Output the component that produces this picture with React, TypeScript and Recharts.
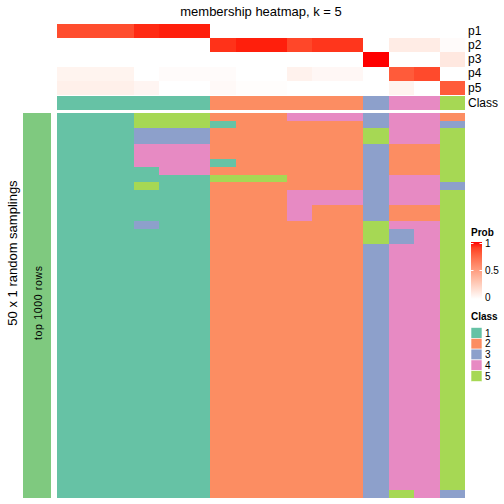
import { BarChart, Bar, Cell, XAxis, YAxis } from 'recharts';

const columns = ['c1', 'c2', 'c3', 'c4', 'c5', 'c6', 'c7', 'c8', 'c9', 'c10', 'c11', 'c12', 'c13', 'c14', 'c15', 'c16'];
const probNames = ['p1', 'p2', 'p3', 'p4', 'p5'];

const p1 = [0.85, 0.85, 0.85, 0.95, 0.97, 0.97, 0, 0, 0, 0, 0, 0, 0, 0, 0, 0];
const p2 = [0, 0, 0, 0, 0, 0, 0.93, 0.97, 0.97, 0.87, 0.92, 0.92, 0, 0.1, 0.1, 0.02];
const p3 = [0, 0, 0, 0, 0, 0, 0, 0, 0, 0, 0, 0, 1, 0, 0, 0.12];
const p4 = [0.06, 0.06, 0.06, 0, 0.02, 0.02, 0.02, 0, 0, 0.07, 0.04, 0.04, 0, 0.8, 0.86, 0];
const p5 = [0.08, 0.08, 0.08, 0.05, 0, 0, 0.03, 0.01, 0.01, 0, 0, 0, 0, 0.06, 0, 0.8];
const probs = [p1, p2, p3, p4, p5];

const columnClass = [1, 1, 1, 1, 1, 1, 2, 2, 2, 2, 2, 2, 3, 4, 4, 5];

// class of each of the 50 samplings, as runs [class, count] from top to bottom
const samplingRuns = [
  [[1, 50]],
  [[1, 50]],
  [[1, 50]],
  [[5, 2], [3, 2], [4, 3], [1, 2], [5, 1], [1, 4], [3, 1], [1, 35]],
  [[5, 2], [3, 2], [4, 4], [1, 42]],
  [[5, 2], [3, 2], [4, 4], [1, 42]],
  [[2, 1], [1, 1], [2, 4], [1, 1], [2, 1], [5, 1], [2, 41]],
  [[2, 8], [5, 1], [2, 41]],
  [[2, 8], [5, 1], [2, 41]],
  [[4, 1], [2, 9], [4, 4], [2, 36]],
  [[4, 1], [2, 9], [4, 2], [2, 38]],
  [[4, 1], [2, 9], [4, 2], [2, 38]],
  [[3, 2], [5, 2], [3, 10], [5, 3], [3, 33]],
  [[4, 4], [2, 4], [4, 4], [2, 2], [4, 1], [3, 2], [4, 32], [5, 1]],
  [[4, 4], [2, 4], [4, 4], [2, 2], [4, 36]],
  [[2, 1], [3, 1], [5, 7], [3, 1], [5, 39], [3, 1]],
];

const classLabels = ['1', '2', '3', '4', '5'];
const classColors: Record<number, string> = {
  1: '#66C2A5',
  2: '#FC8D62',
  3: '#8DA0CB',
  4: '#E78AC3',
  5: '#A6D854',
};
const probTicks = ['1', '0.5', '0'];

const FONT = '"Liberation Sans", Arial, Helvetica, sans-serif';

// white -> red ramp, interpolated in Lab like colorRamp2
function probColor(v: number) {
  const L = 100 + (53.24 - 100) * v;
  const A = 80.09 * v;
  const B = 67.2 * v;
  const fy = (L + 16) / 116;
  const fx = fy + A / 500;
  const fz = fy - B / 200;
  const inv = (t: number) => (t ** 3 > 0.008856 ? t ** 3 : (t - 16 / 116) / 7.787);
  const X = 0.95047 * inv(fx);
  const Y = inv(fy);
  const Z = 1.08883 * inv(fz);
  const lin = [
    3.2406 * X - 1.5372 * Y - 0.4986 * Z,
    -0.9689 * X + 1.8758 * Y + 0.0415 * Z,
    0.0557 * X - 0.204 * Y + 1.057 * Z,
  ];
  const out = lin.map((c) => {
    const g = c <= 0.0031308 ? 12.92 * c : 1.055 * Math.pow(c, 1 / 2.4) - 0.055;
    return Math.round(Math.min(1, Math.max(0, g)) * 255);
  });
  return `rgb(${out[0]},${out[1]},${out[2]})`;
}

const rowCount = 50;
const rowKeys = Array.from({ length: rowCount }, (_, i) => `r${i}`);
const samplingMatrix = samplingRuns.map((runs) => runs.flatMap(([cls, n]) => Array(n).fill(cls)));

const probData = columns.map((col) => {
  const d: Record<string, string | number> = { col };
  probNames.forEach((p) => (d[p] = 1));
  return d;
});
const classData = columns.map((col) => ({ col, cls: 1 }));
const bodyData = columns.map((col) => {
  const d: Record<string, string | number> = { col };
  rowKeys.forEach((k) => (d[k] = 1));
  return d;
});

const LEFT = 57;
const WIDTH = 408;
const chartMargin = { top: 0, right: 0, bottom: 0, left: 0 };

// recharts floors the bar width, so close the sub-pixel gap to the next column
const Tile = (props: any) => {
  const { x, y, width, height, fill, index } = props;
  const extra = index < columns.length - 1 ? 1 : WIDTH / columns.length - width;
  const top = height < 0 ? y + height : y;
  const h = Math.abs(height);
  return <rect x={x} y={top} width={width + extra} height={h} fill={fill} shapeRendering="crispEdges" />;
};

function Overlay() {
  const rowLabelY = [31, 45, 59, 73, 88, 103];
  return (
    <svg width={504} height={504} style={{ position: 'absolute', left: 0, top: 0 }} fontFamily={FONT}>
      <defs>
        <linearGradient id="probGrad" x1="0" y1="1" x2="0" y2="0">
          {[0, 0.1, 0.2, 0.3, 0.4, 0.5, 0.6, 0.7, 0.8, 0.9, 1].map((s) => (
            <stop key={s} offset={s} stopColor={probColor(s)} />
          ))}
        </linearGradient>
      </defs>
      <text x={261} y={15.5} fontSize={13} textAnchor="middle" fill="#000">
        membership heatmap, k = 5
      </text>
      {[...probNames, 'Class'].map((name, i) => (
        <text key={name} x={468} y={rowLabelY[i]} fontSize={12} dominantBaseline="central" fill="#000">
          {name}
        </text>
      ))}
      <text transform="translate(17,253) rotate(-90)" fontSize={13} textAnchor="middle" fill="#000">
        50 x 1 random samplings
      </text>
      <rect x={23} y={113} width={28} height={385} fill="#7FC97F" />
      <text
        transform="translate(41.5,303) rotate(-90)"
        fontSize={10.5}
        textAnchor="middle"
        textLength={74}
        lengthAdjust="spacing"
        fill="#000"
      >
        top 1000 rows
      </text>

      <text x={471} y={236} fontSize={10} fontWeight="bold" fill="#000">Prob</text>
      <rect x={471} y={242} width={11} height={57} fill="url(#probGrad)" />
      {[243.5, 270.5].map((y) => (
        <g key={y} stroke="#fff" strokeWidth={1}>
          <line x1={471} x2={473.5} y1={y} y2={y} />
          <line x1={479.5} x2={482} y1={y} y2={y} />
        </g>
      ))}
      {probTicks.map((t, i) => (
        <text key={t} x={485} y={243.5 + i * 27} fontSize={10} dominantBaseline="central" fill="#000">
          {t}
        </text>
      ))}

      <text x={471} y={320} fontSize={10} fontWeight="bold" fill="#000">Class</text>
      {classLabels.map((lab, i) => (
        <g key={lab}>
          <rect x={471} y={327.5 + i * 10.8} width={11} height={10.8} fill={classColors[i + 1]} stroke="#fff" strokeWidth={0.6} />
          <text x={485} y={333 + i * 10.8} fontSize={10} dominantBaseline="central" fill="#000">
            {lab}
          </text>
        </g>
      ))}
    </svg>
  );
}

export default function App() {
  return (
    <div style={{ position: 'absolute', left: 0, top: 0, width: 504, height: 504, background: '#fff' }}>
      <Overlay />
      <div style={{ position: 'absolute', left: LEFT, top: 24 }}>
        <BarChart width={WIDTH} height={71} data={probData} margin={chartMargin} barCategoryGap={0} barGap={0}>
          <XAxis dataKey="col" type="category" hide />
          <YAxis type="number" domain={[0, probNames.length]} reversed hide allowDataOverflow />
          {probNames.map((p, r) => (
            <Bar key={p} dataKey={p} stackId="p" isAnimationActive={false} shape={Tile}>
              {columns.map((c, i) => (
                <Cell key={c} fill={probColor(probs[r][i])} />
              ))}
            </Bar>
          ))}
        </BarChart>
      </div>
      <div style={{ position: 'absolute', left: LEFT, top: 96 }}>
        <BarChart width={WIDTH} height={14} data={classData} margin={chartMargin} barCategoryGap={0} barGap={0}>
          <XAxis dataKey="col" type="category" hide />
          <YAxis type="number" domain={[0, 1]} hide allowDataOverflow />
          <Bar dataKey="cls" isAnimationActive={false} shape={Tile}>
            {columns.map((c, i) => (
              <Cell key={c} fill={classColors[columnClass[i]]} />
            ))}
          </Bar>
        </BarChart>
      </div>
      <div style={{ position: 'absolute', left: LEFT, top: 113 }}>
        <BarChart width={WIDTH} height={385} data={bodyData} margin={chartMargin} barCategoryGap={0} barGap={0}>
          <XAxis dataKey="col" type="category" hide />
          <YAxis type="number" domain={[0, rowCount]} reversed hide allowDataOverflow />
          {rowKeys.map((k, r) => (
            <Bar key={k} dataKey={k} stackId="s" isAnimationActive={false} shape={Tile}>
              {columns.map((c, i) => (
                <Cell key={c} fill={classColors[samplingMatrix[i][r]]} />
              ))}
            </Bar>
          ))}
        </BarChart>
      </div>
    </div>
  );
}
